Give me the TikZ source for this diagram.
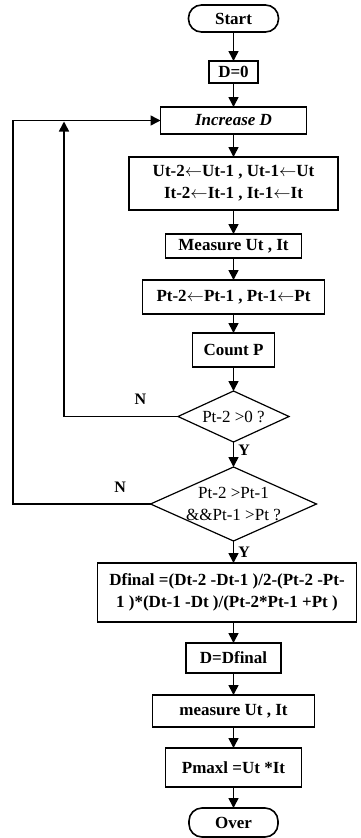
\documentclass[tikz,border=0pt]{standalone}
\usepackage{fontspec}
\setmainfont{Liberation Serif}
\usetikzlibrary{arrows.meta, positioning, shapes.geometric}
\tikzset{
  every picture/.style={font=\fontsize{17}{22}\selectfont\bfseries, line width=1.6pt},
  box/.style={draw=black, rectangle, align=center, inner sep=3pt, outer sep=0pt},
  term/.style={box, rounded corners=13pt},
  decision/.style={draw=black, diamond, line width=1.2pt, inner sep=0pt, outer sep=0pt, align=center, font=\fontsize{17}{22}\selectfont},
  cond/.style={align=center, font=\fontsize{17}{22}\selectfont, inner sep=0pt},
  flow/.style={-{Triangle[length=10pt, width=10pt]}, draw=black, line width=1.6pt},
  tag/.style={font=\fontsize{16}{19}\selectfont\bfseries, inner sep=1pt},
}

\begin{document}
\begin{tikzpicture}[x=1pt, y=1pt, node distance=22pt]
  \useasboundingbox (0,0) rectangle (360,-838);
  \node[term, minimum width=90pt, minimum height=27pt] (start) at (233.5,-18.5) {Start};
  \node[box, below=29pt of start, minimum width=49pt, minimum height=22pt] (zero) {D=0};
  \node[box, below=24pt of zero, minimum width=146pt, minimum height=27pt] (inc) {\itshape Increase D};
  \node[box, below=23pt of inc, minimum width=209pt, minimum height=53pt] (shiftui)
    {Ut-2$\leftarrow$Ut-1 , Ut-1$\leftarrow$Ut\\It-2$\leftarrow$It-1 , It-1$\leftarrow$It};
  \node[box, below=24pt of shiftui, minimum width=136pt, minimum height=24pt] (meas) {Measure Ut , It};
  \node[box, below=of meas, minimum width=182pt, minimum height=34pt] (shiftp) {Pt-2$\leftarrow$Pt-1 , Pt-1$\leftarrow$Pt};
  \node[box, below=19pt of shiftp, minimum width=82pt, minimum height=34pt] (count) {Count P};
  \node[decision, below=24pt of count, aspect=2.2, minimum width=111pt, minimum height=51pt] (chk) {Pt-2 >0 ?};
  \node[decision, below=25pt of chk, aspect=2.2, minimum width=166pt, minimum height=74pt,
    label={[cond]center:{Pt-2 >Pt-1\\\&\&Pt-1 >Pt ?}}] (cmp) {};
  \node[box, below=of cmp, xshift=-6.5pt, minimum width=259pt, minimum height=59pt] (dfin)
    {Dfinal =(Dt-2 -Dt-1 )/2-(Pt-2 -Pt-\\1 )*(Dt-1 -Dt )/(Pt-2*Pt-1 +Pt )};
  \node[box, below=21pt of dfin, xshift=6.5pt, minimum width=95pt, minimum height=30pt] (dset) {D=Dfinal};
  \node[box, below=of dset, minimum width=162pt, minimum height=32pt] (meas2) {measure Ut , It};
  \node[box, below=21pt of meas2, minimum width=136pt, minimum height=39pt] (pmax) {Pmaxl =Ut *It};
  \node[term, below=21pt of pmax, minimum width=89pt, minimum height=29pt] (over) {Over};
  \coordinate (outer) at (13,0);
  \coordinate (inner) at (64,0);

  \draw[flow] (start) -- (zero); \draw[flow] (zero) -- (inc); \draw[flow] (inc) -- (shiftui);
  \draw[flow] (shiftui) -- (meas); \draw[flow] (meas) -- (shiftp); \draw[flow] (shiftp) -- (count);
  \draw[flow] (count) -- (chk);
  \draw[flow] (chk) -- node[tag, pos=0.35, right=3pt] (y1) {Y} (cmp);
  \draw[flow] (cmp.south) -- node[tag, pos=0.5, right=3pt] (y2) {Y} (cmp.south |- dfin.north);
  \draw[flow] (dset |- dfin.south) -- (dset); \draw[flow] (dset) -- (meas2);
  \draw[flow] (meas2) -- (pmax); \draw[flow] (pmax) -- (over);
  % loops back to Increase D
  \draw[flow] (cmp.west) -- node[tag, pos=0.22, above=10pt] (n2) {N} (cmp.west -| outer) |- (inc.west);
  \draw[flow] (chk.west) -- node[tag, pos=0.33, above=10pt] (n1) {N} (chk.west -| inner) -- ([yshift=-1pt]inner |- inc.west);
\end{tikzpicture}
\end{document}
